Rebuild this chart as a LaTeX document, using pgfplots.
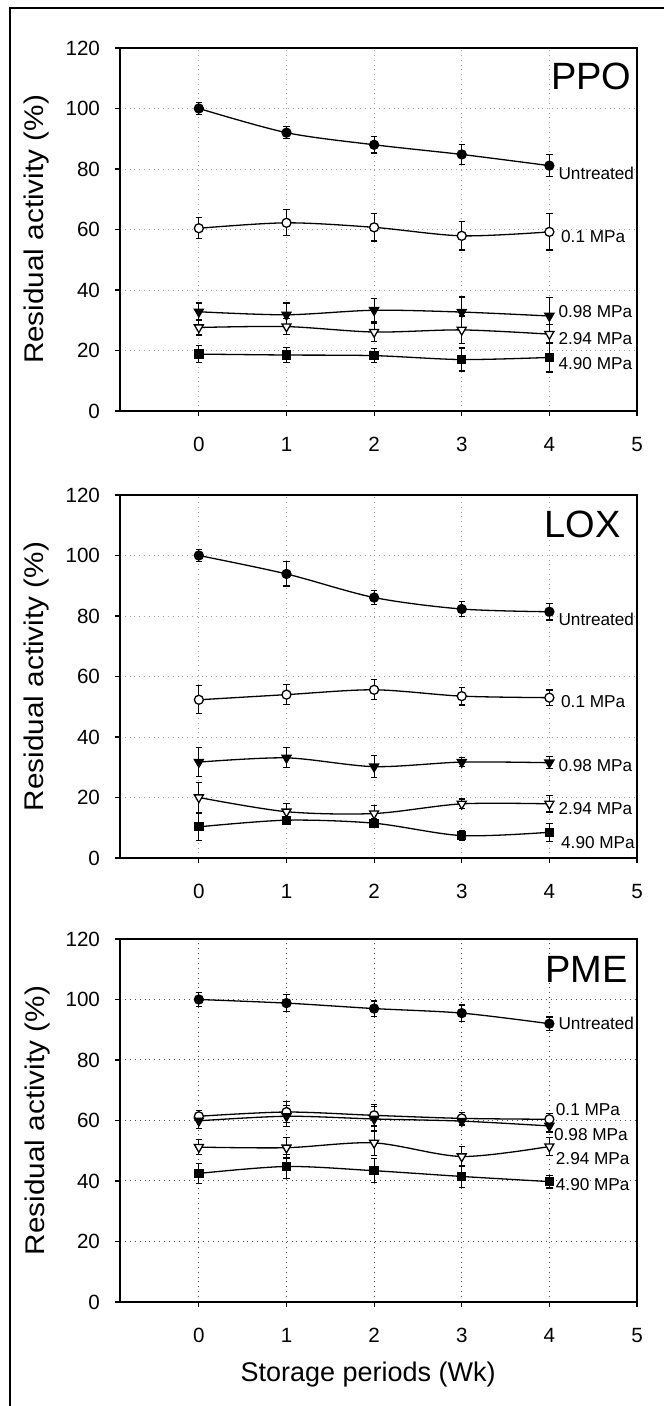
\documentclass[border=0pt]{standalone}
\usepackage{graphicx}
\usepackage{pgfplots}
\pgfplotsset{compat=1.18}
\usepackage{fontspec}
\setmainfont{Liberation Sans}

\tikzset{
  clab/.style={anchor=west, font=\fontsize{8.6}{10}\selectfont, inner sep=0pt},
  ptitle/.style={anchor=east, font=\fontsize{19}{21}\selectfont, inner sep=0pt},
}
\pgfplotsset{
  panel/.style={
    scale only axis, width=258.5pt, height=181.5pt,
    xmin=-0.9, xmax=5, ymin=0, ymax=120,
    xtick={0,1,2,3,4,5}, ytick={0,20,40,60,80,100,120},
    tick align=outside, major tick length=2.5pt,
    xtick pos=bottom, ytick pos=left,
    grid=major,
    major grid style={dotted, gray!75, line width=0.45pt},
    axis line style={line width=0.75pt},
    tick style={black, line width=0.6pt},
    ticklabel style={font=\fontsize{10.3}{12}\selectfont},
    xticklabel style={yshift=-7pt},
    yticklabel style={xshift=-4pt},
    /pgf/number format/assume math mode=true,
    ylabel={\scalebox{1.1}[1]{Residual activity (\%)}},
    ylabel style={font=\fontsize{13.5}{15}\selectfont,
      at={(axis description cs:-0.1605,0.5)}, anchor=center},
    clip=false,
  },
  ser/.style={black, line width=0.65pt, smooth, tension=0.5,
    error bars/y dir=both, error bars/y explicit,
    error bars/error bar style={line width=0.6pt, black, solid},
    error bars/error mark options={rotate=90, mark size=1.6pt, line width=0.6pt, black}},
  untr/.style={ser, mark=*, mark size=2.25pt, mark options={solid, fill=black}},
  p01/.style={ser, mark=*, mark size=2.25pt, mark options={solid, fill=white}},
  p098/.style={ser, mark=triangle*, mark size=2.6pt, mark options={solid, rotate=180, fill=black}},
  p294/.style={ser, mark=triangle*, mark size=2.6pt, mark options={solid, rotate=180, fill=white}},
  p490/.style={ser, mark=square*, mark size=2pt, mark options={solid, fill=black}},
}

\begin{document}
\begin{tikzpicture}[x=0.5pt, y=0.5pt]
\useasboundingbox (0,0) rectangle (664,1406);
% frame of the figure
\draw[line width=0.75pt] (10,0) -- (10,1398) -- (664,1398);

% ---------------- PPO ----------------
\begin{axis}[panel, at={(60pt,497.5pt)}, anchor=south west]
\addplot+[untr] coordinates {(0,100) +- (0,1.9) (1,92.0) +- (0,2.0) (2,88.0) +- (0,2.7) (3,84.8) +- (0,3.2) (4,81.1) +- (0,3.6)};
\addplot+[p01] coordinates {(0,60.4) +- (0,3.5) (1,62.2) +- (0,4.3) (2,60.7) +- (0,4.5) (3,57.9) +- (0,4.7) (4,59.2) +- (0,6.0)};
\addplot+[p098] coordinates {(0,32.8) +- (0,2.9) (1,31.8) +- (0,3.9) (2,33.3) +- (0,3.9) (3,32.7) +- (0,5.0) (4,31.4) +- (0,6.0)};
\addplot+[p294] coordinates {(0,27.6) +- (0,2.5) (1,27.9) +- (0,2.7) (2,26.1) +- (0,3.0) (3,26.8) +- (0,4.6) (4,25.4) +- (0,3.2)};
\addplot+[p490] coordinates {(0,18.8) +- (0,2.8) (1,18.5) +- (0,2.4) (2,18.3) +- (0,2.3) (3,17.0) +- (0,3.8) (4,17.7) +- (0,4.8)};
\node[clab] at (axis cs:4.1,78.7) {Untreated};
\node[clab] at (axis cs:4.13,57.6) {0.1 MPa};
\node[clab] at (axis cs:4.1,33.0) {0.98 MPa};
\node[clab] at (axis cs:4.1,23.8) {2.94 MPa};
\node[clab] at (axis cs:4.1,15.8) {4.90 MPa};
\node[ptitle] at (axis cs:4.94,110.5) {PPO};
\end{axis}

% ---------------- LOX ----------------
\begin{axis}[panel, at={(60pt,274pt)}, anchor=south west]
\addplot+[untr] coordinates {(0,100) +- (0,2.0) (1,93.9) +- (0,4.0) (2,86.1) +- (0,2.4) (3,82.3) +- (0,2.5) (4,81.4) +- (0,2.7)};
\addplot+[p01] coordinates {(0,52.3) +- (0,4.6) (1,54.0) +- (0,3.3) (2,55.6) +- (0,3.3) (3,53.5) +- (0,2.9) (4,53.0) +- (0,2.5)};
\addplot+[p098] coordinates {(0,31.7) +- (0,4.7) (1,33.1) +- (0,3.3) (2,30.2) +- (0,3.7) (3,31.7) +- (0,1.5) (4,31.5) +- (0,2.0)};
\addplot+[p294] coordinates {(0,20.0) +- (0,5.0) (1,15.3) +- (0,2.6) (2,14.7) +- (0,2.6) (3,17.9) +- (0,1.6) (4,17.9) +- (0,2.7)};
\addplot+[p490] coordinates {(0,10.3) +- (0,4.6) (1,12.5) +- (0,1.2) (2,11.5) +- (0,1.5) (3,7.4) +- (0,1.6) (4,8.5) +- (0,3.0)};
\node[clab] at (axis cs:4.1,78.8) {Untreated};
\node[clab] at (axis cs:4.13,51.7) {0.1 MPa};
\node[clab] at (axis cs:4.1,30.4) {0.98 MPa};
\node[clab] at (axis cs:4.1,16.4) {2.94 MPa};
\node[clab] at (axis cs:4.13,5.2) {4.90 MPa};
\node[ptitle] at (axis cs:4.82,110.2) {LOX};
\end{axis}

% ---------------- PME ----------------
\begin{axis}[panel, at={(60pt,52pt)}, anchor=south west,
  major grid style={dotted, black!70, line width=0.5pt},
  xlabel={Storage periods (Wk)},
  xlabel style={font=\fontsize{13.5}{15}\selectfont,
    at={(axis description cs:0.48,-0.201)}, anchor=center}]
\addplot+[untr] coordinates {(0,100) +- (0,2.2) (1,98.8) +- (0,2.8) (2,97.0) +- (0,2.5) (3,95.5) +- (0,2.7) (4,92.0) +- (0,2.2)};
\addplot+[p01] coordinates {(0,61.4) +- (0,1.8) (1,62.8) +- (0,3.5) (2,61.7) +- (0,3.5) (3,60.7) +- (0,2.0) (4,60.4) +- (0,2.0)};
\addplot+[p098] coordinates {(0,59.9) +- (0,2.5) (1,61.4) +- (0,3.5) (2,60.5) +- (0,4.0) (3,59.8) +- (0,1.5) (4,58.2) +- (0,2.0)};
\addplot+[p294] coordinates {(0,51.2) +- (0,2.5) (1,51.0) +- (0,3.4) (2,52.6) +- (0,4.2) (3,48.1) +- (0,3.4) (4,51.4) +- (0,2.9)};
\addplot+[p490] coordinates {(0,42.5) +- (0,3.4) (1,44.8) +- (0,3.9) (2,43.4) +- (0,4.0) (3,41.5) +- (0,3.7) (4,39.8) +- (0,2.1)};
\node[clab] at (axis cs:4.1,92.2) {Untreated};
\node[clab] at (axis cs:4.07,63.6) {0.1 MPa};
\node[clab] at (axis cs:4.05,55.3) {0.98 MPa};
\node[clab] at (axis cs:4.07,47.3) {2.94 MPa};
\node[clab] at (axis cs:4.07,38.7) {4.90 MPa};
\node[ptitle] at (axis cs:4.90,109.8) {PME};
\end{axis}
\end{tikzpicture}
\end{document}
